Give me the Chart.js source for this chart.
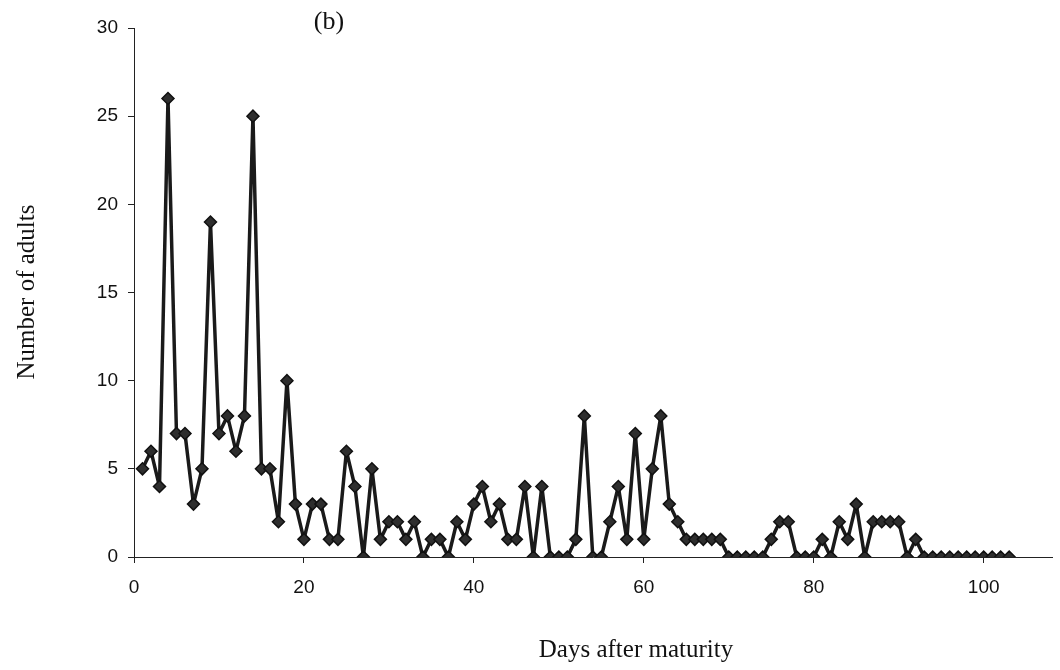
<!DOCTYPE html>
<html>
<head>
<meta charset="utf-8">
<script src="https://cdn.jsdelivr.net/npm/chart.js@4/dist/chart.umd.min.js"></script>
<style>
  html, body { margin: 0; padding: 0; background: #ffffff; }
  #wrap { width: 1060px; height: 670px; position: relative; }
</style>
</head>
<body>
<div id="wrap"><canvas id="c" width="1060" height="670"></canvas></div>
<script>
// ---- data ----
const days = [1,2,3,4,5,6,7,8,9,10,11,12,13,14,15,16,17,18,19,20,
  21,22,23,24,25,26,27,28,29,30,31,32,33,34,35,36,37,38,39,40,
  41,42,43,44,45,46,47,48,49,50,51,52,53,54,55,56,57,58,59,60,
  61,62,63,64,65,66,67,68,69,70,71,72,73,74,75,76,77,78,79,80,
  81,82,83,84,85,86,87,88,89,90,91,92,93,94,95,96,97,98,99,100,
  101,102,103];
const adults = [5,6,4,26,7,7,3,5,19,7,8,6,8,25,5,5,2,10,3,1,
  3,3,1,1,6,4,0,5,1,2,2,1,2,0,1,1,0,2,1,3,
  4,2,3,1,1,4,0,4,0,0,0,1,8,0,0,2,4,1,7,1,
  5,8,3,2,1,1,1,1,1,0,0,0,0,0,1,2,2,0,0,0,
  1,0,2,1,3,0,2,2,2,2,0,1,0,0,0,0,0,0,0,0,
  0,0,0];
const xTicks = [0, 20, 40, 60, 80, 100];
const yTicks = [0, 5, 10, 15, 20, 25, 30];
const panelLabel = "(b)";
const xTitle = "Days after maturity";
const yTitle = "Number of adults";

const points = days.map((d, i) => ({ x: d, y: adults[i] }));

const titlesPlugin = {
  id: 'titles',
  afterDraw(chart) {
    const ctx = chart.ctx;
    ctx.save();
    ctx.fillStyle = '#111';
    ctx.textAlign = 'center';
    ctx.textBaseline = 'middle';
    ctx.font = '26px "Liberation Serif", "Times New Roman", serif';
    ctx.fillText(panelLabel, 329, 22);
    ctx.font = '25px "Liberation Serif", "Times New Roman", serif';
    ctx.fillText(xTitle, 636, 650);
    ctx.translate(27, 292);
    ctx.rotate(-Math.PI / 2);
    ctx.fillText(yTitle, 0, 0);
    ctx.restore();
  }
};

new Chart(document.getElementById('c'), {
  type: 'scatter',
  data: {
    datasets: [{
      data: points,
      showLine: true,
      borderColor: '#1a1a1a',
      borderWidth: 3.5,
      borderJoinStyle: 'round',
      backgroundColor: '#2a2a2a',
      pointStyle: 'rectRot',
      pointRadius: 6,
      pointBorderWidth: 1.5,
      pointBorderColor: '#111',
      pointBackgroundColor: '#2e2e2e',
      tension: 0
    }]
  },
  options: {
    responsive: false,
    animation: false,
    devicePixelRatio: 1,
    layout: { padding: { top: 28, right: 0, left: 0, bottom: 0 } },
    plugins: { legend: { display: false }, tooltip: { enabled: false } },
    scales: {
      x: {
        type: 'linear',
        min: 0,
        max: 108.1,
        afterFit(scale) { scale.height = 113; },
        afterBuildTicks(scale) { scale.ticks = xTicks.map(v => ({ value: v })); },
        grid: { display: true, drawOnChartArea: false, drawTicks: true, tickLength: 6, color: '#222', lineWidth: 1 },
        border: { display: true, color: '#222', width: 1 },
        ticks: {
          color: '#111',
          font: { family: '"Liberation Sans", Arial, sans-serif', size: 19 },
          padding: 13,
          maxRotation: 0
        }
      },
      y: {
        type: 'linear',
        min: 0,
        max: 30,
        afterFit(scale) { scale.width = 134; },
        afterBuildTicks(scale) { scale.ticks = yTicks.map(v => ({ value: v })); },
        grid: { display: true, drawOnChartArea: false, drawTicks: true, tickLength: 6, color: '#222', lineWidth: 1 },
        border: { display: true, color: '#222', width: 1 },
        ticks: {
          color: '#111',
          font: { family: '"Liberation Sans", Arial, sans-serif', size: 19 },
          padding: 10
        }
      }
    }
  },
  plugins: [titlesPlugin]
});
</script>
</body>
</html>
